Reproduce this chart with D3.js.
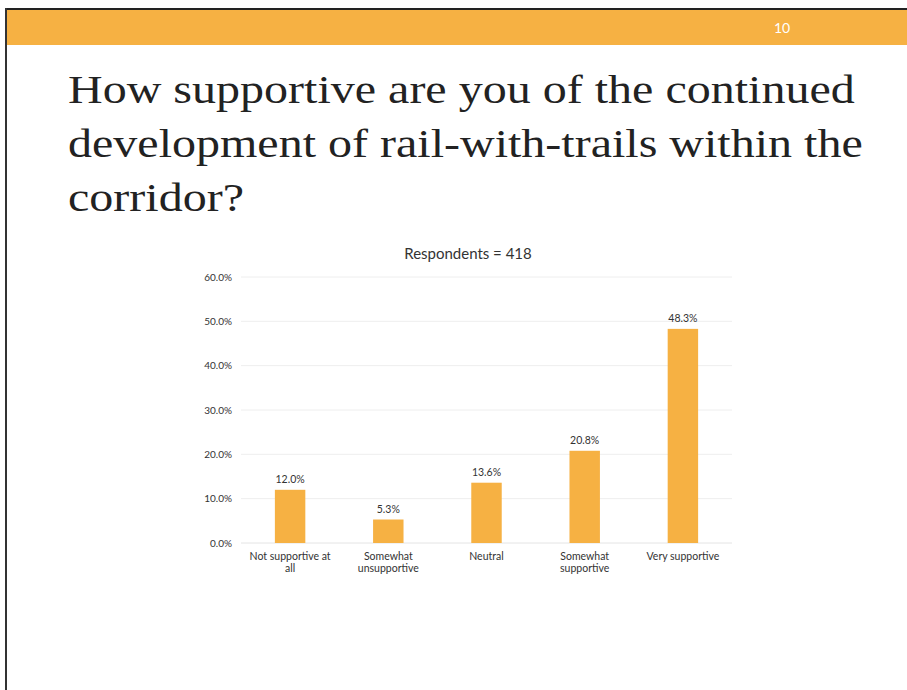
<!DOCTYPE html>
<html>
<head>
<meta charset="utf-8">
<script src="https://cdn.jsdelivr.net/npm/d3@7"></script>
<style>
  html, body { margin: 0; padding: 0; background: #fff; }
  svg { display: block; }
</style>
</head>
<body>
<div id="chart"></div>
<script>
// chart data
const categories = [['Not supportive at', 'all'], ['Somewhat', 'unsupportive'], ['Neutral'], ['Somewhat', 'supportive'], ['Very supportive']]
const values = [12.0, 5.3, 13.6, 20.8, 48.3]
const yTicks = [0, 10, 20, 30, 40, 50, 60]
const titleLines = ['How supportive are you of the continued', 'development of rail-with-trails within the', 'corridor?']
const subtitle = 'Respondents = 418'
const slideNumber = '10'

const W = 907, H = 690
const orange = '#F6B143'
const margin = { top: 277, right: 175, bottom: 147, left: 241 }   // plot box inside the slide

const svg = d3.select('#chart')
    .append('svg')
    .attr('width', W)
    .attr('height', H)

// slide frame + header band
svg.append('rect')
    .attr('x', 7).attr('y', 10)
    .attr('width', W - 7).attr('height', 35)
    .attr('fill', orange)

svg.append('line')
    .attr('x1', 5).attr('x2', W)
    .attr('y1', 9).attr('y2', 9)
    .attr('stroke', '#222').attr('stroke-width', 2)

svg.append('line')
    .attr('x1', 6).attr('x2', 6)
    .attr('y1', 8).attr('y2', H)
    .attr('stroke', '#333').attr('stroke-width', 2)

svg.append('text')
    .attr('x', 782).attr('y', 33)
    .attr('text-anchor', 'middle')
    .attr('fill', '#fff')
    .attr('font-family', 'Lato, sans-serif')
    .attr('font-size', 14)
    .text(slideNumber)

// title - size it so the first line spans like the slide
const title = svg.append('g')
    .attr('fill', '#222')
    .attr('font-family', '"Liberation Serif", serif')
    .attr('font-size', 41)

title.selectAll('text')
    .data(titleLines).enter()
    .append('text')
    .attr('x', 68)
    .attr('y', (d, i) => 103 + i * 54)
    .text(d => d)

const firstW = title.select('text').node().getComputedTextLength()
const stretch = 787 / firstW
title.selectAll('text')
    .attr('transform', `translate(68,0) scale(${stretch},1) translate(-68,0)`)

// plot
const width = W - margin.left - margin.right
const height = H - margin.top - margin.bottom

const g = svg.append('g')
    .attr('transform', `translate(${margin.left}, ${margin.top})`)

const x = d3.scaleBand()
    .domain(d3.range(values.length))
    .range([0, width])
    .paddingInner(0.69)
    .paddingOuter(0.345)

const y = d3.scaleLinear()
    .domain([0, 60])
    .range([height, 0])

svg.append('text')
    .attr('x', 468).attr('y', 259)
    .attr('text-anchor', 'middle')
    .attr('fill', '#333')
    .attr('font-family', 'Lato, sans-serif')
    .attr('font-size', 15)
    .text(subtitle)

// gridlines (faint, the scan almost lost them)
g.append('g')
    .selectAll('line')
    .data(yTicks.slice(1)).enter()
    .append('line')
    .attr('x1', 0).attr('x2', width)
    .attr('y1', d => y(d)).attr('y2', d => y(d))
    .attr('stroke', '#eeeeee')
    .attr('stroke-width', 1)

// y axis
const yAxis = g.append('g')
    .call(d3.axisLeft(y)
        .tickValues(yTicks)
        .tickSize(0)
        .tickPadding(9)
        .tickFormat(d => d.toFixed(1) + '%'))
yAxis.select('.domain').remove()
yAxis.selectAll('text')
    .attr('fill', '#333')
    .attr('font-family', 'Lato, sans-serif')
    .attr('font-size', 10)

// baseline
g.append('line')
    .attr('x1', 0).attr('x2', width)
    .attr('y1', height).attr('y2', height)
    .attr('stroke', '#e4e4e4')

// bars
g.selectAll('.bar')
    .data(values).enter()
    .append('rect')
    .attr('class', 'bar')
    .attr('x', (d, i) => x(i))
    .attr('y', d => y(d))
    .attr('width', x.bandwidth())
    .attr('height', d => height - y(d))
    .attr('fill', orange)

// value labels
g.selectAll('.val')
    .data(values).enter()
    .append('text')
    .attr('class', 'val')
    .attr('x', (d, i) => x(i) + x.bandwidth() / 2)
    .attr('y', d => y(d) - 7)
    .attr('text-anchor', 'middle')
    .attr('fill', '#333')
    .attr('font-family', 'Lato, sans-serif')
    .attr('font-size', 10.5)
    .text(d => d.toFixed(1) + '%')

// category labels
const cat = g.selectAll('.cat')
    .data(categories).enter()
    .append('text')
    .attr('class', 'cat')
    .attr('text-anchor', 'middle')
    .attr('fill', '#333')
    .attr('font-family', 'Lato, sans-serif')
    .attr('font-size', 10.5)

cat.selectAll('tspan')
    .data((d, i) => d.map(line => ({ line, i })))
    .enter()
    .append('tspan')
    .attr('x', d => x(d.i) + x.bandwidth() / 2)
    .attr('y', (d, j) => height + 17 + j * 12)
    .text(d => d.line)
</script>
</body>
</html>
